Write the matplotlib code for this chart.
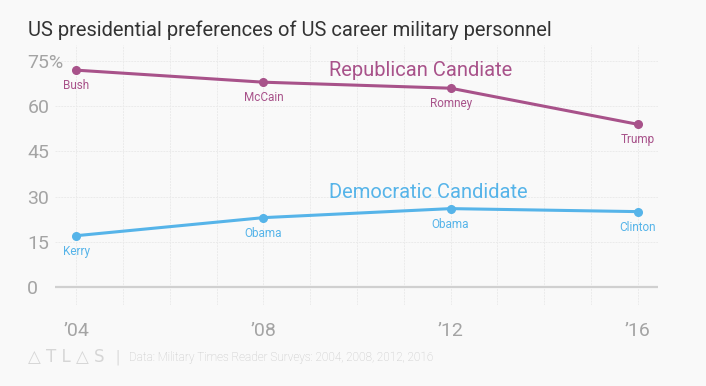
import matplotlib.pyplot as plt

# data
years = [2004, 2008, 2012, 2016]
rep_values = [72, 68, 66, 54]
dem_values = [17, 23, 26, 25]
rep_names = ["Bush", "McCain", "Romney", "Trump"]
dem_names = ["Kerry", "Obama", "Obama", "Clinton"]
year_labels = ["\u201904", "\u201908", "\u201912", "\u201916"]
y_ticks = [0, 15, 30, 45, 60, 75]
y_labels = ["0", "15", "30", "45", "60", "75%"]

rep_color = "#a8528a"
dem_color = "#56b4e9"
bg = "#f9f9f9"

plt.rcParams['font.family'] = ['Roboto', 'DejaVu Sans']

fig = plt.figure(figsize=(7.06, 3.86), dpi=100, facecolor=bg)
ax = fig.add_axes([0.078, 0.21, 0.854, 0.673], facecolor=bg)

ax.plot(years, rep_values, color=rep_color, lw=2.2, marker="o", ms=5.5, zorder=3)
ax.plot(years, dem_values, color=dem_color, lw=2.2, marker="o", ms=5.5, zorder=3)

for x, y, name in zip(years, rep_values, rep_names):
    ax.annotate(name, (x, y), xytext=(0, -6.5), textcoords="offset points",
                ha="center", va="top", fontsize=8.5, color=rep_color)
for x, y, name in zip(years, dem_values, dem_names):
    ax.annotate(name, (x, y), xytext=(0, -6.5), textcoords="offset points",
                ha="center", va="top", fontsize=8.5, color=dem_color)

ax.text(2009.4, 71.8, "Republican Candiate", color=rep_color, fontsize=14.5,
        va="center")
ax.text(2009.4, 31.5, "Democratic Candidate", color=dem_color, fontsize=14.5,
        va="center")

ax.set_xlim(2003.55, 2016.43)
ax.set_ylim(-6, 80.3)

ax.set_xticks(range(2004, 2017), minor=True)
ax.set_xticks(years)
ax.set_xticklabels(year_labels, fontsize=14, color="#a4a4a4")
ax.set_yticks(y_ticks)
ax.set_yticklabels(y_labels, fontsize=14, color="#a4a4a4", ha="left")
ax.tick_params(axis="y", length=0, pad=20)
ax.tick_params(axis="x", length=0, pad=12)
ax.tick_params(axis="x", which="minor", length=0)

ax.grid(True, which="both", axis="x", color="#ebebeb", lw=0.7, ls=(0, (2, 1)))
ax.grid(True, axis="y", color="#ebebeb", lw=0.7, ls=(0, (2, 1)))
ax.axhline(0, color="#d0d0d0", lw=1.6, zorder=2)
for s in ax.spines.values():
    s.set_visible(False)

fig.text(0.04, 0.922, "US presidential preferences of US career military personnel",
         fontsize=14.5, color="#333333", va="center")
fig.text(0.04, 0.075, "\u25b3 T L \u25b3 S", fontsize=12, color="#d6d6d6", va="center",
         family=['DejaVu Sans'])
fig.text(0.163, 0.075, "|", fontsize=13, color="#dcdcdc", va="center")
fig.text(0.183, 0.075, "Data: Military Times Reader Surveys: 2004, 2008, 2012, 2016",
         fontsize=8.5, color="#c4c4c4", va="center", fontweight="light")

fig.savefig("out.png", dpi=100, facecolor=bg)
